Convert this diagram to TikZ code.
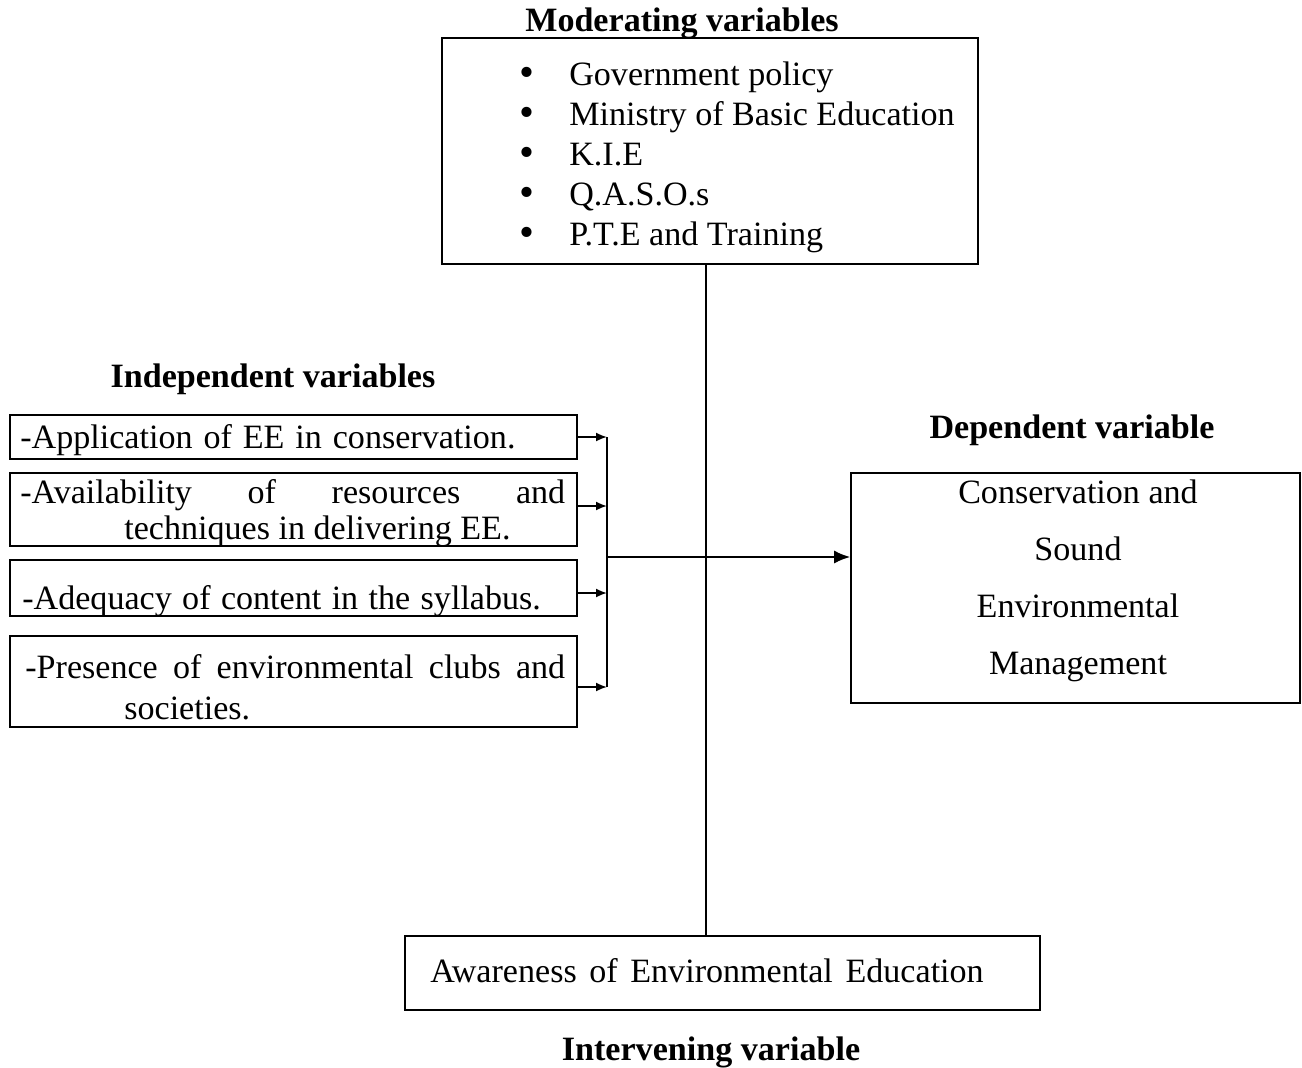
\documentclass[tikz,border=0pt]{standalone}
\usepackage{fontspec}
\setmainfont{Liberation Serif}
\usetikzlibrary{arrows.meta}
\newcommand{\mybul}{\makebox[1cm][l]{\raisebox{-1pt}{\scalebox{1.25}{•}}}}
\newcommand{\wsp}[1]{\spaceskip=#1\relax}
\begin{document}
\begin{tikzpicture}[x=0.02cm,y=-0.02cm,
  font=\fontsize{19.4}{22.8}\selectfont,
  box/.style={draw,line width=1pt,rectangle,inner sep=0pt},
  ibox/.style={box,minimum width=11.34cm},
  txt/.style={inner sep=0pt,anchor=west,align=left},
  wide/.style={inner sep=0pt,anchor=west},
  title/.style={font=\fontsize{19.4}{22.8}\selectfont\bfseries,anchor=base},
  conn/.style={line width=1pt},
  sarrow/.style={line width=1pt,-{Latex[length=2.2mm,width=1.8mm]}},
  barrow/.style={line width=1pt,-{Latex[length=3.2mm,width=2.6mm]}}]
\useasboundingbox (0,0) rectangle (1302,1068);

% Moderating
\node[title] (tmod) at (682,32) {Moderating variables};
\node[box,minimum width=10.72cm,minimum height=4.52cm] (mod) at (710,151) {};
\node[anchor=north west,align=left,inner sep=0pt] (modlist) at (519,61)
  {\mybul Government policy\\
   \mybul Ministry of Basic Education\\
   \mybul K.I.E\\
   \mybul Q.A.S.O.s\\
   \mybul P.T.E and Training};

% Independent
\node[title] (tind) at (273,387) {Independent variables};
\node[ibox,minimum height=0.88cm] (b1) at (293.5,437) {};
\node[ibox,minimum height=1.46cm] (b2) at (293.5,509.5) {};
\node[ibox,minimum height=1.12cm] (b3) at (293.5,588) {};
\node[ibox,minimum height=1.82cm] (b4) at (293.5,681.5) {};
\node[wide] (t1) at (20,440) {\wsp{0.32em}-Application of EE in conservation.};
\node[txt,font=\fontsize{19.4}{20.5}\selectfont] (t2) at (20,513.5)
  {\makebox[10.9cm][l]{-Availability\hfill of\hfill resources\hfill and}\\
   \hspace*{2.08cm}techniques in delivering EE.};
\node[wide] (t3) at (22,601) {\wsp{0.305em}-Adequacy of content in the syllabus.};
\node[txt,font=\fontsize{19.4}{23.3}\selectfont] (t4) at (25,687.5)
  {\makebox[10.8cm][l]{-Presence\hfill of\hfill environmental\hfill clubs\hfill and}\\
   \hspace*{1.98cm}societies.};

% Dependent
\node[title] (tdep) at (1072,438) {Dependent variable};
\node[box,minimum width=8.98cm,minimum height=4.6cm] (dep) at (1075.5,588) {};
\node[align=center,inner sep=0pt,font=\fontsize{19.4}{32.4}\selectfont] (deptext) at (1078,580.5)
  {Conservation and\\Sound\\Environmental\\Management};

% Intervening
\node[box,minimum width=12.7cm,minimum height=1.48cm] (inter) at (722.5,973) {};
\node[wide] (intertext) at (430,971) {\wsp{0.37em}Awareness of Environmental Education};
\node[title] (tint) at (711,1060) {Intervening variable};

% Connectors
\coordinate (vx) at (706,0);
\coordinate (bx) at (607,0);
\coordinate (j) at (607,557);
\draw[conn] (mod.south -| vx) -- (inter.north -| vx);
\draw[conn] (b1.east -| bx) -- ([yshift=-0.11cm]b4.east -| bx);
\draw[sarrow] (b1.east) -- (b1.east -| bx);
\draw[sarrow] ([yshift=0.07cm]b2.east) -- ([yshift=0.07cm]b2.east -| bx);
\draw[sarrow] ([yshift=-0.1cm]b3.east) -- ([yshift=-0.1cm]b3.east -| bx);
\draw[sarrow] ([yshift=-0.11cm]b4.east) -- ([yshift=-0.11cm]b4.east -| bx);
\draw[barrow] (j) -- (j -| dep.west);
\end{tikzpicture}
\end{document}
